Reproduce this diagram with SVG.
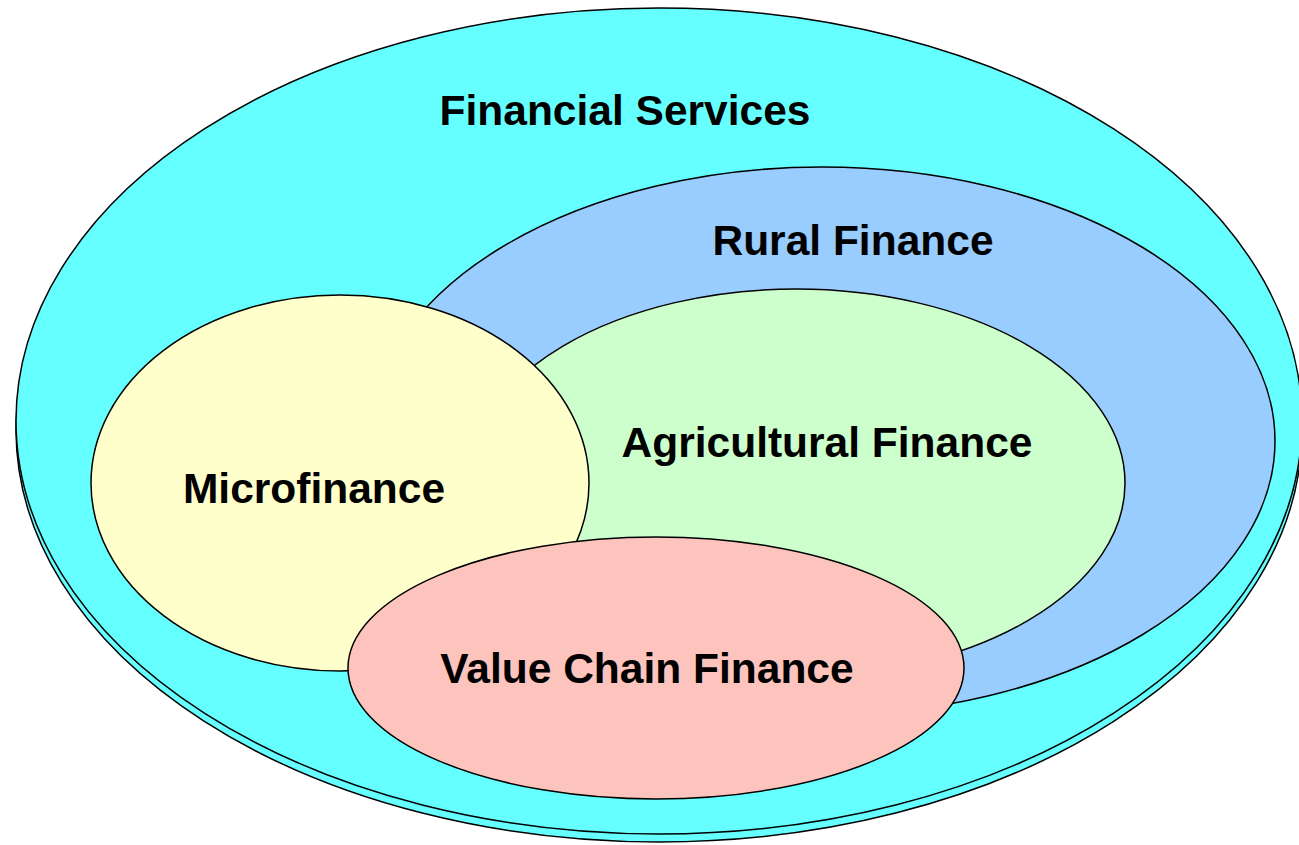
<svg xmlns="http://www.w3.org/2000/svg" width="1299" height="845" viewBox="0 0 1299 845">
<style>
.e{stroke:#000;stroke-width:1.5}
.t{font-family:"Liberation Sans",Arial,sans-serif;font-weight:bold;font-size:42.5px;text-anchor:middle;fill:#000}
</style>
<rect width="1299" height="845" fill="#fff"/>
<g id="financial-services">
<ellipse class="e" cx="659" cy="430" rx="643" ry="412" fill="#66FFFF"/>
<ellipse class="e" cx="659" cy="421" rx="643" ry="413" fill="#66FFFF"/>
<text class="t" x="625" y="125">Financial Services</text>
</g>
<g id="rural-finance">
<ellipse class="e" cx="822" cy="441" rx="453" ry="274" fill="#99CCFF"/>
<text class="t" x="853" y="255">Rural Finance</text>
</g>
<g id="agricultural-finance">
<ellipse class="e" cx="796" cy="483" rx="329" ry="194" fill="#CCFFCC"/>
<text class="t" x="827" y="457">Agricultural Finance</text>
</g>
<g id="microfinance">
<ellipse class="e" cx="340" cy="483" rx="249" ry="188" fill="#FFFFCC"/>
<text class="t" x="314" y="503">Microfinance</text>
</g>
<g id="value-chain-finance">
<ellipse class="e" cx="656" cy="668" rx="308" ry="131" fill="#FCC4BC"/>
<text class="t" x="647" y="683">Value Chain Finance</text>
</g>
<g id="connectors"></g>
</svg>
